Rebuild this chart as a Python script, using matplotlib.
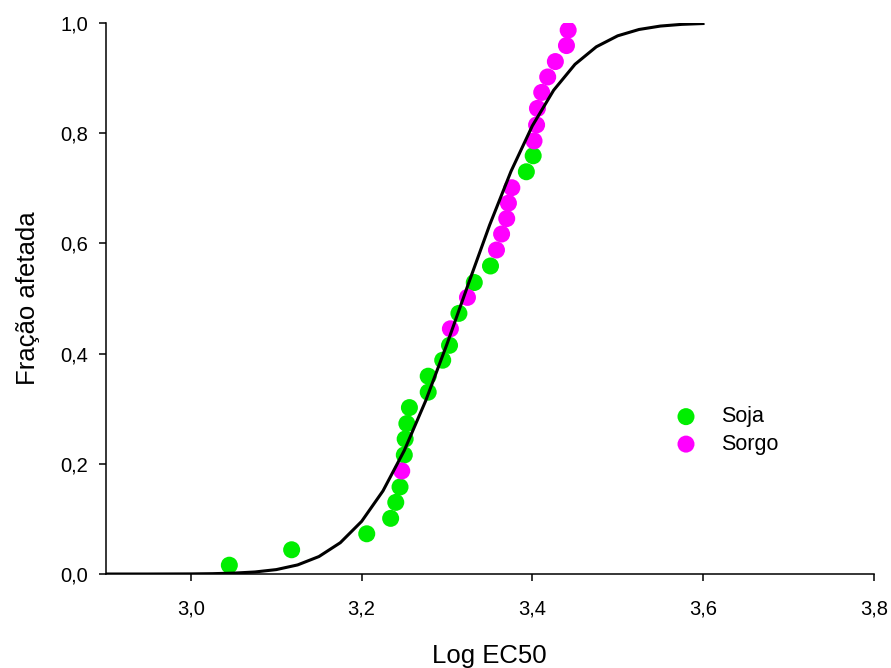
import matplotlib
matplotlib.use("Agg")
import matplotlib.pyplot as plt
from matplotlib.ticker import FuncFormatter

plt.rcParams['font.family'] = ['Liberation Sans', 'DejaVu Sans']

# dados
soja_x = [3.045, 3.118, 3.206, 3.234, 3.240, 3.245, 3.250, 3.251, 3.253, 3.256,
          3.278, 3.278, 3.295, 3.303, 3.314, 3.332, 3.351, 3.393, 3.401]
soja_y = [0.016, 0.044, 0.073, 0.101, 0.130, 0.158, 0.216, 0.245, 0.273, 0.302,
          0.330, 0.359, 0.388, 0.415, 0.473, 0.529, 0.559, 0.730, 0.759]

sorgo_x = [3.247, 3.304, 3.324, 3.358, 3.364, 3.370, 3.372, 3.376, 3.402, 3.405,
           3.406, 3.411, 3.418, 3.427, 3.440, 3.442]
sorgo_y = [0.187, 0.445, 0.502, 0.588, 0.617, 0.645, 0.673, 0.701, 0.786, 0.815,
           0.845, 0.874, 0.902, 0.930, 0.959, 0.987]

curva_x = [2.900, 2.925, 2.950, 2.975, 3.000, 3.025, 3.050, 3.075, 3.100, 3.125,
           3.150, 3.175, 3.200, 3.225, 3.250, 3.275, 3.300, 3.325, 3.350, 3.375,
           3.400, 3.425, 3.450, 3.475, 3.500, 3.525, 3.550, 3.575, 3.600]
curva_y = [0.0000, 0.0000, 0.0000, 0.0001, 0.0002, 0.0006, 0.0016, 0.0037, 0.0080, 0.0165,
           0.0317, 0.0568, 0.0955, 0.1508, 0.2242, 0.3142, 0.4172, 0.5263, 0.6334, 0.7307,
           0.8133, 0.8780, 0.9250, 0.9568, 0.9767, 0.9882, 0.9944, 0.9975, 0.9990]

x_ticks = [3.0, 3.2, 3.4, 3.6, 3.8]
y_ticks = [0.0, 0.2, 0.4, 0.6, 0.8, 1.0]

fig = plt.figure(figsize=(8.91, 6.68), dpi=100)
ax = fig.add_axes([0.1185, 0.1407, 0.8621, 0.8249])

ax.scatter(soja_x, soja_y, s=150, color='#00ee00', edgecolors='none', label='Soja', zorder=2)
ax.scatter(sorgo_x, sorgo_y, s=150, color='#ff00ff', edgecolors='none', label='Sorgo', zorder=2)
ax.plot(curva_x, curva_y, color='black', linewidth=2.2, zorder=3)

ax.set_xlim(2.9, 3.8)
ax.set_ylim(0, 1.0)
ax.set_xticks(x_ticks)
ax.set_yticks(y_ticks)
virgula = FuncFormatter(lambda v, p: f"{v:.1f}".replace('.', ','))
ax.xaxis.set_major_formatter(virgula)
ax.yaxis.set_major_formatter(virgula)

for s in ['top', 'right']:
    ax.spines[s].set_visible(False)
for s in ['left', 'bottom']:
    ax.spines[s].set_linewidth(1.1)
ax.tick_params(direction='out', length=5, width=1.1, labelsize=14.5)
ax.tick_params(axis='x', pad=13.5)
ax.tick_params(axis='y', pad=7.5)

ax.set_xlabel('Log EC50', fontsize=18.5, labelpad=18)
ax.set_ylabel('Fração afetada', fontsize=18.5, labelpad=15)

ax.legend(loc='center left', bbox_to_anchor=(0.7416, 0.2604), frameon=False,
          fontsize=15.5, handlelength=1.0, handletextpad=1.15, labelspacing=0.3,
          borderpad=0, borderaxespad=0, scatterpoints=1)

fig.savefig('out.png', dpi=100)
